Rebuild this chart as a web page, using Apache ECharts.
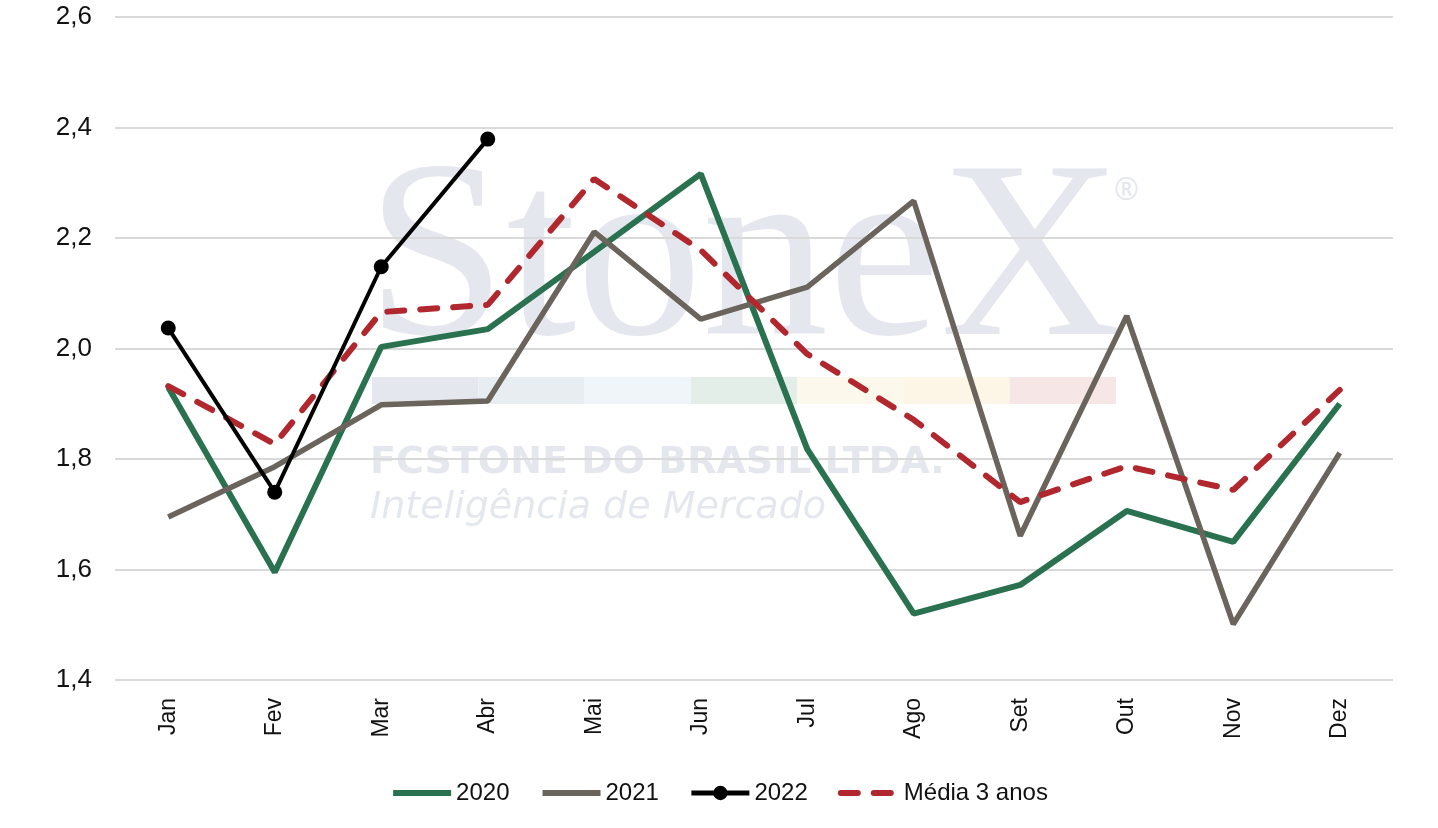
<!DOCTYPE html>
<html>
<head>
<meta charset="utf-8">
<script src="https://cdn.jsdelivr.net/npm/echarts@6/dist/echarts.min.js"></script>
<style>
  html, body { margin: 0; padding: 0; background: #fff; }
  #chart { width: 1438px; height: 828px; }
</style>
</head>
<body>
<div id="chart"></div>
<script>
// meses e valores
var months = ['Jan', 'Fev', 'Mar', 'Abr', 'Mai', 'Jun', 'Jul', 'Ago', 'Set', 'Out', 'Nov', 'Dez'];
var data2020 = [1.93, 1.595, 2.003, 2.035, 2.175, 2.316, 1.818, 1.52, 1.572, 1.706, 1.65, 1.9];
var data2021 = [1.695, 1.786, 1.898, 1.905, 2.211, 2.053, 2.111, 2.267, 1.661, 2.059, 1.501, 1.811];
var data2022 = [2.037, 1.74, 2.148, 2.379];
var dataMedia = [1.932, 1.827, 2.066, 2.079, 2.307, 2.178, 1.99, 1.871, 1.722, 1.787, 1.744, 1.925];
var stripeColors = ['#e4e8ee', '#e8edf2', '#f0f5f9', '#e3eee8', '#fcf8ec', '#fdf5e6', '#f7e6e6'];

var chart = echarts.init(document.getElementById('chart'));

// marca d'agua StoneX atras das linhas
var watermark = [{
  type: 'text', left: 366, top: 142, z: -10, silent: true,
  style: { text: 'StoneX', font: '252px "Liberation Serif", serif', fill: '#e4e8ee' }
}, {
  type: 'text', left: 1114, top: 176, z: -10, silent: true,
  style: { text: '®', font: '30px "Noto Sans"', fill: '#e4e8ee' }
}, {
  type: 'text', left: 370, top: 444, z: -10, silent: true,
  style: { text: 'FCSTONE DO BRASIL LTDA.', font: 'bold 38px "DejaVu Sans"', fill: '#e4e8ee' }
}, {
  type: 'text', left: 370, top: 489, z: -10, silent: true,
  style: { text: 'Inteligência de Mercado', font: 'italic 200 38px "DejaVu Sans"', fill: '#e4e8ee' }
}];
stripeColors.forEach(function (c, i) {
  watermark.push({
    type: 'rect', left: 372 + i * 106.3, top: 377, z: -10, silent: true,
    shape: { width: 106.3, height: 27 },
    style: { fill: c }
  });
});

var hideDot = { opacity: 0 };

var option = {
  animation: false,
  backgroundColor: '#fff',
  graphic: watermark,
  grid: { left: 115, right: 45, top: 17, bottom: 148 },
  legend: {
    bottom: 18,
    left: 'center',
    itemWidth: 58,
    itemHeight: 18,
    itemGap: 30,
    textStyle: { fontFamily: 'Liberation Sans', fontSize: 24, color: '#111' },
    data: [
      { name: '2020', itemStyle: hideDot, lineStyle: { width: 6 } },
      { name: '2021', itemStyle: hideDot, lineStyle: { width: 6 } },
      { name: '2022', lineStyle: { width: 5 } },
      { name: 'Média 3 anos', itemStyle: hideDot, lineStyle: { width: 6 } }
    ]
  },
  xAxis: {
    type: 'category',
    data: months,
    boundaryGap: true,
    axisLine: { show: false },
    axisTick: { show: false },
    axisLabel: {
      rotate: 90, margin: 18, color: '#111',
      fontFamily: 'Liberation Sans', fontSize: 23
    }
  },
  yAxis: {
    type: 'value',
    min: 1.4, max: 2.6, interval: 0.2,
    axisLine: { show: false },
    axisTick: { show: false },
    splitLine: { lineStyle: { color: '#d9d9d9', width: 2 } },
    axisLabel: {
      margin: 23, color: '#111', fontFamily: 'Liberation Sans', fontSize: 26,
      formatter: function (v) { return v.toFixed(1).replace('.', ','); }
    }
  },
  series: [{
    name: '2020', type: 'line', data: data2020, symbol: 'none', z: 3,
    lineStyle: { color: '#2a7150', width: 6 }, itemStyle: { color: '#2a7150' }
  }, {
    name: '2021', type: 'line', data: data2021, symbol: 'none', z: 3,
    lineStyle: { color: '#6b645c', width: 5.5 }, itemStyle: { color: '#6b645c' }
  }, {
    name: '2022', type: 'line', data: data2022, symbol: 'circle', symbolSize: 15, z: 5,
    lineStyle: { color: '#000', width: 4 }, itemStyle: { color: '#000' }
  }, {
    name: 'Média 3 anos', type: 'line', data: dataMedia, symbol: 'none', z: 4,
    lineStyle: { color: '#b0282e', width: 6, type: [17, 16], cap: 'round' },
    itemStyle: { color: '#b0282e' }
  }]
};

chart.setOption(option);
</script>
</body>
</html>
